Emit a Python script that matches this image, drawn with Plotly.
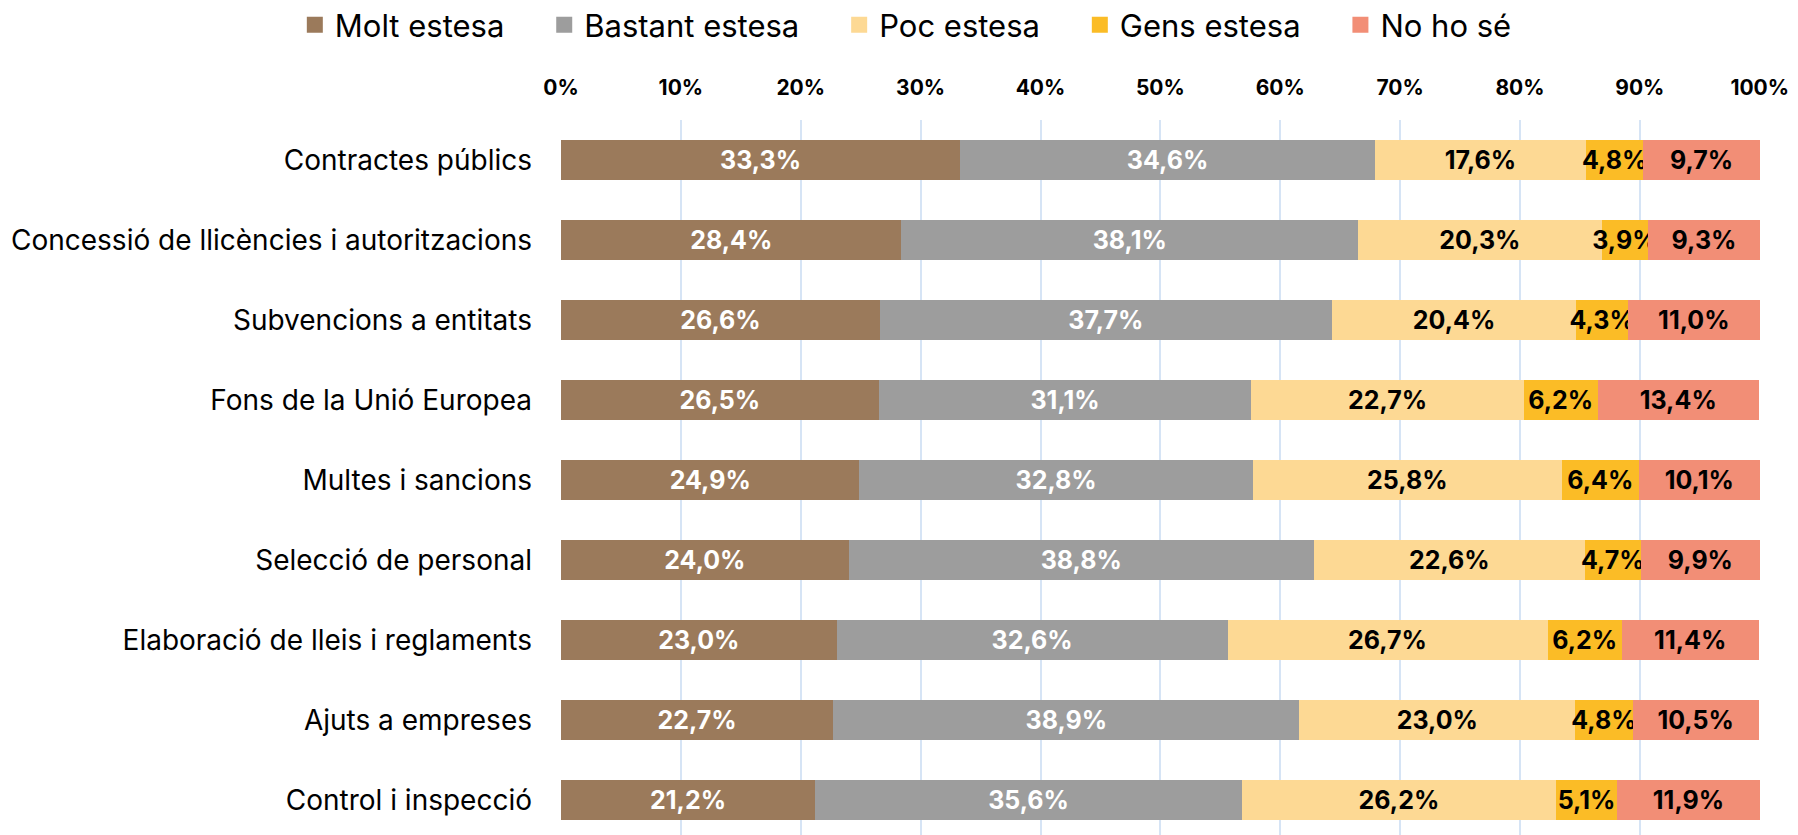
import plotly.graph_objects as go

categories = ["Contractes públics", "Concessió de llicències i autoritzacions",
              "Subvencions a entitats", "Fons de la Unió Europea", "Multes i sancions",
              "Selecció de personal", "Elaboració de lleis i reglaments",
              "Ajuts a empreses", "Control i inspecció"]
series_names = ["Molt estesa", "Bastant estesa", "Poc estesa", "Gens estesa", "No ho sé"]
molt = [33.3, 28.4, 26.6, 26.5, 24.9, 24.0, 23.0, 22.7, 21.2]
bastant = [34.6, 38.1, 37.7, 31.1, 32.8, 38.8, 32.6, 38.9, 35.6]
poc = [17.6, 20.3, 20.4, 22.7, 25.8, 22.6, 26.7, 23.0, 26.2]
gens = [4.8, 3.9, 4.3, 6.2, 6.4, 4.7, 6.2, 4.8, 5.1]
nohose = [9.7, 9.3, 11.0, 13.4, 10.1, 9.9, 11.4, 10.5, 11.9]
tick_vals = [0, 10, 20, 30, 40, 50, 60, 70, 80, 90, 100]
tick_text = [f"{v}%" for v in tick_vals]

colors = ["#9b7a5b", "#9d9d9d", "#fdd994", "#fbbc26", "#f28e76"]
text_colors = ["white", "white", "black", "black", "black"]
FONT = "Inter"

fig = go.Figure()
for name, vals, col, tc in zip(series_names, [molt, bastant, poc, gens, nohose], colors, text_colors):
    fig.add_trace(go.Bar(
        y=categories, x=vals, name=name, orientation="h", showlegend=False,
        marker=dict(color=col, line=dict(width=0)),
        text=[f"{v:.1f}%".replace(".", ",") for v in vals],
        textposition="inside", insidetextanchor="middle", textangle=0,
        constraintext="none", cliponaxis=False,
        textfont=dict(family=FONT, size=25, color=tc, weight="bold"),
        hoverinfo="skip",
    ))
# legend entries (square swatches)
for name, col in zip(series_names, colors):
    fig.add_trace(go.Scatter(
        x=[None], y=[None], mode="markers", name=name + "\u00a0" * 4,
        marker=dict(symbol="square", size=18, color=col),
        hoverinfo="skip",
    ))

fig.update_layout(
    barmode="stack", bargap=0.5,
    width=1798, height=835,
    margin=dict(l=553, r=46, t=112, b=0, autoexpand=False),
    plot_bgcolor="white", paper_bgcolor="white",
    font=dict(family=FONT, color="black"),
    legend=dict(orientation="h", xref="paper", yref="paper",
                x=-0.222, xanchor="left", y=1.1314, yanchor="middle",
                font=dict(family=FONT, size=31), itemwidth=30,
                traceorder="normal", itemsizing="trace"),
    xaxis=dict(side="top", range=[0, 100.02], tickvals=tick_vals, ticktext=tick_text,
               showgrid=True, gridcolor="#d6e4f5", gridwidth=2, zeroline=False,
               ticklabelstandoff=20,
               tickfont=dict(family=FONT, size=21, weight="bold"), fixedrange=True),
    yaxis=dict(range=[8.5375, -0.5], showgrid=False, ticklabelstandoff=28,
               tickfont=dict(family=FONT, size=28), fixedrange=True),
)

fig.write_html("out.html")
